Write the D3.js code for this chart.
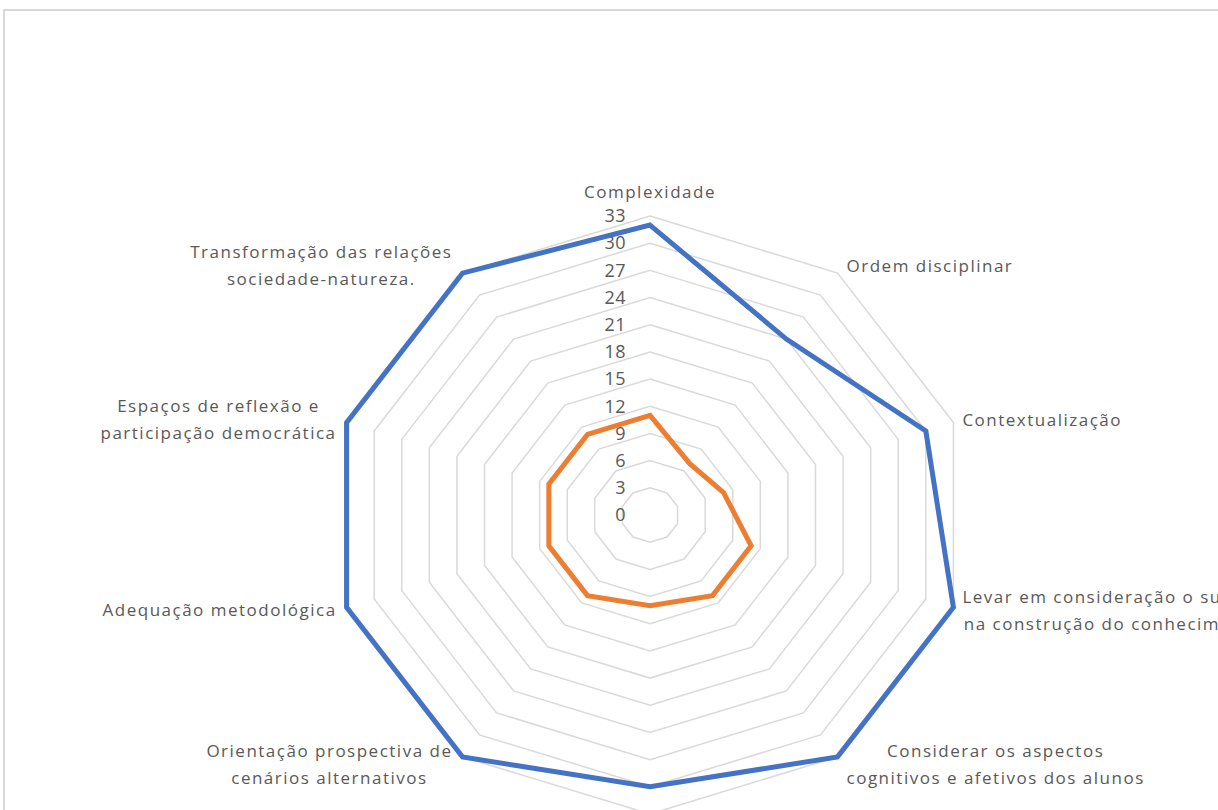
<!DOCTYPE html>
<html>
<head>
<meta charset="utf-8">
<script src="https://cdn.jsdelivr.net/npm/d3@7"></script>
<style>
  body { margin: 0; background: #fff; }
  svg { display: block; }
</style>
</head>
<body>
<div class="canva"></div>
<script>
// categories clockwise from the top, "\n" marks the line breaks of the labels
const categories = [
  'Complexidade',
  'Ordem disciplinar',
  'Contextualização',
  'Levar em consideração o sujeito\nna construção do conhecimento',
  'Considerar os aspectos\ncognitivos e afetivos dos alunos',
  'Coerência e reconstrução entre\nteoria e prática',
  'Orientação prospectiva de\ncenários alternativos',
  'Adequação metodológica',
  'Espaços de reflexão e\nparticipação democrática',
  'Transformação das relações\nsociedade-natureza.'
];
const seriesBlue = [32, 24, 30, 33, 33, 30, 33, 33, 33, 33];
const seriesOrange = [11, 7, 8, 11, 11, 10, 11, 11, 11, 11];
const tickValues = [0, 3, 6, 9, 12, 15, 18, 21, 24, 27, 30, 33];

const width = 1218, height = 810;
const cx = 650, cy = 515;
const stretchX = 1.067;   // the picture is a bit wider than tall

const svg = d3.select('.canva').append('svg')
              .attr('width', width)
              .attr('height', height);

// chart area border (top and left edges only are inside the picture)
svg.append('path')
   .attr('d', `M4,${height + 5} V10 H${width + 5}`)
   .attr('fill', 'none')
   .attr('stroke', '#d9d9d9')
   .attr('stroke-width', 2);

const r = d3.scaleLinear()
            .domain([0, d3.max(tickValues)])
            .range([0, 299]);

const angle = d3.scaleLinear()
                .domain([0, categories.length])
                .range([0, 2 * Math.PI]);

const px = (v, i) => cx + stretchX * r(v) * Math.sin(angle(i));
const py = (v, i) => cy - r(v) * Math.cos(angle(i));

const radarLine = d3.line()
                    .x((v, i) => px(v, i))
                    .y((v, i) => py(v, i))
                    .curve(d3.curveLinearClosed);

const graph = svg.append('g');

// grid rings
graph.selectAll('path.ring')
     .data(tickValues.filter(t => t > 0))
     .enter()
     .append('path')
     .attr('class', 'ring')
     .attr('d', t => radarLine(categories.map(() => t)))
     .attr('fill', 'none')
     .attr('stroke', '#d9d9d9')
     .attr('stroke-width', 1.5);

// tick labels
graph.selectAll('text.tick')
     .data(tickValues)
     .enter()
     .append('text')
     .attr('class', 'tick')
     .attr('x', 626)
     .attr('y', t => cy - r(t))
     .attr('dy', '0.35em')
     .attr('text-anchor', 'end')
     .attr('font-family', '"Open Sans", sans-serif')
     .attr('font-size', 18)
     .attr('letter-spacing', 0.5)
     .attr('fill', '#595959')
     .text(t => t);

// series
const series = [
  { values: seriesBlue, color: '#4472c4' },
  { values: seriesOrange, color: '#ed7d31' }
];

graph.selectAll('path.series')
     .data(series)
     .enter()
     .append('path')
     .attr('class', 'series')
     .attr('d', s => radarLine(s.values))
     .attr('fill', 'none')
     .attr('stroke', s => s.color)
     .attr('stroke-width', 5)
     .attr('stroke-linejoin', 'miter');

// category labels
const maxV = d3.max(tickValues);
const lineHeight = 27;

categories.forEach((name, i) => {
  const lines = name.split('\n');
  const a = angle(i);
  const vx = px(maxV, i);
  const vy = py(maxV, i);

  const label = graph.append('text')
                     .attr('font-family', '"Open Sans", sans-serif')
                     .attr('font-size', 17)
                     .attr('letter-spacing', 1.5)
                     .attr('fill', '#595959')
                     .attr('text-anchor', 'middle');

  const tspans = label.selectAll('tspan')
                      .data(lines)
                      .enter()
                      .append('tspan')
                      .text(d => d);

  const widths = tspans.nodes().map(n => n.getComputedTextLength());
  const blockW = d3.max(widths);
  const sin = Math.sin(a);
  let bx, by;
  if (Math.abs(sin) < 0.01) {
    bx = vx;
    by = Math.cos(a) > 0 ? vy - 24 : vy + 24;
  } else if (sin > 0) {
    bx = vx + 9 + blockW / 2;
    by = vy - 9 * Math.cos(a);
  } else {
    bx = vx - 10 - blockW / 2;
    by = vy - 9 * Math.cos(a);
  }

  tspans.attr('x', bx)
        .attr('y', (d, j) => by + (j - (lines.length - 1) / 2) * lineHeight)
        .attr('dy', '0.35em');
});
</script>
</body>
</html>
